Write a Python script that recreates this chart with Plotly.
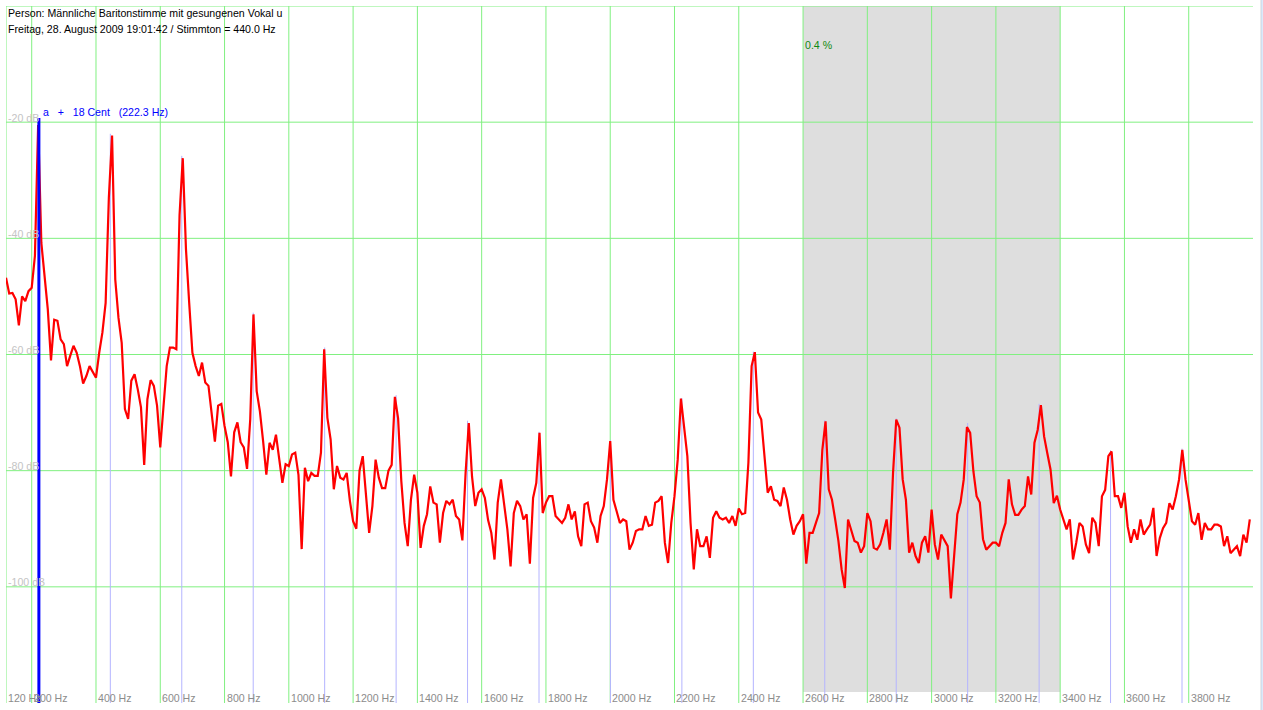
import numpy as np
import plotly.graph_objects as go

# ---------------- data ----------------
FREQ_START_HZ = 120
FREQ_STEP_HZ = 10

DB_120_990 = [
    -46.8, -49.5, -49.4, -50.5, -55.0, -50.0, -50.8, -49.1, -48.5, -43.0,
    -20.5, -40.8, -46.5, -52.2, -61.0, -54.0, -54.2, -57.4, -58.2, -62.0,
    -60.2, -58.5, -59.7, -62.0, -65.0, -63.7, -62.0, -63.1, -64.0, -59.7,
    -56.2, -51.1, -33.0, -22.3, -47.1, -53.7, -58.0, -69.4, -71.1, -64.5,
    -63.4, -66.0, -69.1, -79.0, -67.7, -64.4, -65.4, -68.8, -76.0, -69.0,
    -62.0, -58.8, -58.8, -59.1, -36.0, -26.2, -41.9, -51.1, -59.7, -62.0,
    -63.7, -61.4, -64.8, -65.4, -70.8, -75.0, -68.8, -68.5, -72.3, -75.1,
    -81.0, -73.4, -71.7, -75.1, -76.0, -79.7, -71.1, -53.1, -66.3, -69.8,
    -74.9, -80.7, -75.2, -76.4, -73.8, -78.1, -82.1, -78.9,
]
DB_1000_1990 = [
    -79.2, -77.2, -76.9, -80.7, -93.5, -79.5, -81.8, -80.4, -80.9, -80.9,
    -76.9, -59.1, -70.9, -74.6, -83.2, -79.2, -81.2, -81.5, -80.4, -85.2,
    -88.7, -90.0, -80.0, -77.5, -84.7, -90.7, -86.1, -78.1, -81.2, -83.0,
    -83.0, -80.0, -79.0, -67.3, -71.0, -81.8, -89.0, -93.0, -85.0, -80.7,
    -83.8, -93.3, -89.5, -87.5, -82.7, -85.5, -85.8, -92.4, -87.3, -85.2,
    -85.8, -85.0, -87.8, -88.4, -92.0, -80.4, -71.8, -81.0, -86.1, -83.8,
    -83.2, -84.7, -88.5, -90.7, -95.3, -85.5, -81.5, -85.5, -90.1, -96.5,
    -87.3, -85.2, -86.1, -88.4, -87.5, -96.0, -84.7, -82.1, -73.5, -87.3,
    -85.5, -84.4, -84.4, -87.8, -88.4, -89.0, -88.1, -85.8, -88.4, -87.0,
    -91.3, -93.0, -85.8, -85.5, -88.7, -89.8, -92.4, -87.8, -86.1, -81.5,
]
DB_2000_2990 = [
    -74.9, -85.0, -87.0, -89.0, -88.4, -88.7, -93.6, -92.4, -90.4, -90.1,
    -90.1, -87.8, -89.5, -89.3, -85.5, -85.2, -84.4, -92.4, -95.9, -89.0,
    -84.4, -78.1, -67.6, -72.9, -77.5, -89.0, -97.0, -90.1, -93.0, -93.0,
    -91.3, -95.0, -88.1, -87.0, -88.1, -88.4, -88.1, -89.0, -87.8, -89.5,
    -86.5, -87.5, -87.3, -78.6, -62.0, -59.6, -70.0, -71.2, -78.1, -83.8,
    -82.7, -85.0, -85.2, -86.1, -82.9, -85.0, -88.4, -91.0, -89.5, -88.7,
    -87.5, -96.0, -90.7, -90.7, -89.0, -87.3, -76.4, -71.5, -83.2, -85.0,
    -88.4, -92.1, -97.0, -100.2, -88.4, -90.1, -92.1, -92.4, -94.1, -93.0,
    -87.3, -88.7, -93.3, -93.6, -92.7, -90.7, -88.4, -93.6, -80.4, -71.2,
    -72.6, -81.5, -85.0, -94.1, -92.4, -94.7, -95.9, -92.4, -91.3, -94.1,
]
DB_3000_3990 = [
    -86.7, -92.7, -95.3, -91.0, -92.1, -93.0, -102.0, -94.1, -87.5, -85.5,
    -81.5, -72.5, -73.5, -80.1, -84.4, -85.5, -91.8, -93.6, -93.0, -92.4,
    -92.4, -93.0, -90.7, -89.0, -81.5, -85.8, -87.6, -87.6, -86.7, -86.1,
    -81.0, -84.1, -75.2, -73.0, -68.7, -74.1, -77.0, -79.8, -85.6, -84.3,
    -86.7, -88.4, -90.1, -88.4, -95.3, -92.4, -89.0, -89.6, -92.7, -94.2,
    -88.1, -89.0, -93.0, -84.4, -83.3, -77.5, -76.7, -84.4, -84.4, -86.4,
    -83.8, -89.6, -92.4, -90.1, -91.9, -88.4, -91.0, -90.1, -89.3, -86.4,
    -94.7, -91.6, -89.9, -89.0, -85.6, -86.7, -84.4, -81.5, -76.4, -81.5,
    -85.0, -88.7, -89.3, -87.3, -91.9, -89.0, -90.1, -90.1, -89.3, -89.3,
    -89.6, -93.0, -91.3, -94.2, -93.6, -93.0, -94.7, -91.0, -92.4, -88.4,
]

FUNDAMENTAL_HZ = 222.3
FUNDAMENTAL_TOP_DB = -19.3
HARMONIC_NUMBERS = [2, 3, 4, 5, 6, 7, 8, 9, 10, 11, 12, 13, 14, 15, 16, 17]
HARMONIC_TOP_DB = [-22.0, -25.8, -52.8, -58.8, -67.0, -71.4, -73.3, -74.7,
                   -67.5, -59.5, -71.3, -71.0, -71.8, -68.5, -76.5, -76.2]

X_TICKS = [120, 200, 400, 600, 800, 1000, 1200, 1400, 1600, 1800, 2000,
           2200, 2400, 2600, 2800, 3000, 3200, 3400, 3600, 3800]
X_TICK_LABELS = [f"{v} Hz" for v in X_TICKS]
Y_GRID = [0, -20, -40, -60, -80, -100]
Y_TICKS = [-20, -40, -60, -80, -100]
Y_TICK_LABELS = [f"{v} dB" for v in Y_TICKS]

BAND_HZ = [2600, 3400]
BAND_LABEL = "0.4 %"

TITLE_LINE_1 = "Person: Männliche Baritonstimme mit gesungenen Vokal u"
TITLE_LINE_2 = "Freitag, 28. August 2009 19:01:42 / Stimmton = 440.0 Hz"
NOTE_LABEL = "a\u00a0\u00a0\u00a0+\u00a0\u00a0\u00a018 Cent\u00a0\u00a0\u00a0(222.3 Hz)"

X_RANGE = [120, 4000]
Y_RANGE = [-120, 0]

# ---------------- build ----------------
spectrum_db = DB_120_990 + DB_1000_1990 + DB_2000_2990 + DB_3000_3990
freq = FREQ_START_HZ + FREQ_STEP_HZ * np.arange(len(spectrum_db))

GREEN = "#80f080"
FONT = "Arial, Liberation Sans, sans-serif"
FS = 10.6

fig = go.Figure()

# harmonic marker lines (light blue)
hx, hy = [], []
for n, top in zip(HARMONIC_NUMBERS, HARMONIC_TOP_DB):
    f = n * FUNDAMENTAL_HZ
    hx += [f, f, None]
    hy += [Y_RANGE[0], top, None]
fig.add_trace(go.Scatter(x=hx, y=hy, mode="lines",
                         line=dict(color="#b4b4ff", width=1),
                         hoverinfo="skip", showlegend=False))

# spectrum
fig.add_trace(go.Scatter(x=freq, y=spectrum_db, mode="lines",
                         line=dict(color="#ff0000", width=2.2),
                         showlegend=False))

# fundamental
fig.add_trace(go.Scatter(x=[FUNDAMENTAL_HZ, FUNDAMENTAL_HZ],
                         y=[Y_RANGE[0], FUNDAMENTAL_TOP_DB], mode="lines",
                         line=dict(color="#0000ff", width=3),
                         hoverinfo="skip", showlegend=False))

shapes = [
    dict(type="rect", xref="x", yref="y", x0=BAND_HZ[0], x1=BAND_HZ[1],
         y0=-118.1, y1=0, fillcolor="#dedede", line=dict(width=0), layer="below"),
]
for v in X_TICKS:
    shapes.append(dict(type="line", xref="x", yref="y", x0=v, x1=v,
                       y0=Y_RANGE[0], y1=Y_RANGE[1],
                       line=dict(color=GREEN, width=1), layer="below"))
for v in Y_GRID:
    shapes.append(dict(type="line", xref="x", yref="y", x0=X_RANGE[0], x1=X_RANGE[1],
                       y0=v, y1=v, line=dict(color=GREEN, width=1), layer="below"))
shapes += [
    dict(type="line", xref="paper", yref="paper", x0=1.0064, x1=1.0064, y0=-0.02, y1=1.02,
         line=dict(color="#d8d8d8", width=1)),
    dict(type="line", xref="paper", yref="paper", x0=1.0072, x1=1.0072, y0=-0.02, y1=1.02,
         line=dict(color="#b8d0f0", width=1)),
]

annotations = []
for v, t in zip(X_TICKS, X_TICK_LABELS):
    annotations.append(dict(x=v, y=-119.1, xref="x", yref="y", text=t,
                            xanchor="left", yanchor="middle", showarrow=False,
                            font=dict(family=FONT, size=FS, color="#8c8c8c")))
for v, t in zip(Y_TICKS, Y_TICK_LABELS):
    annotations.append(dict(x=X_RANGE[0], y=v + 0.8, xref="x", yref="y", text=t,
                            xanchor="left", yanchor="middle", showarrow=False,
                            font=dict(family=FONT, size=FS, color="#c4c4c4")))
annotations += [
    dict(x=X_RANGE[0], y=-1.25, xref="x", yref="y", text=TITLE_LINE_1,
         xanchor="left", yanchor="middle", showarrow=False,
         font=dict(family=FONT, size=FS, color="#000000")),
    dict(x=X_RANGE[0], y=-3.95, xref="x", yref="y", text=TITLE_LINE_2,
         xanchor="left", yanchor="middle", showarrow=False,
         font=dict(family=FONT, size=FS, color="#000000")),
    dict(x=230, y=-18.25, xref="x", yref="y", text=NOTE_LABEL,
         xanchor="left", yanchor="middle", showarrow=False,
         font=dict(family=FONT, size=FS, color="#0000ff")),
    dict(x=BAND_HZ[0], y=-6.7, xref="x", yref="y", text=BAND_LABEL,
         xanchor="left", yanchor="middle", showarrow=False,
         font=dict(family=FONT, size=FS, color="#108a10")),
]

fig.update_layout(
    width=1263, height=710,
    margin=dict(l=6, r=10, t=6, b=7, pad=0),
    paper_bgcolor="#ffffff", plot_bgcolor="#ffffff",
    font=dict(family=FONT, size=FS),
    shapes=shapes, annotations=annotations,
    showlegend=False,
    xaxis=dict(range=X_RANGE, showticklabels=False, ticks="", showgrid=False,
               zeroline=False, showline=False, fixedrange=True),
    yaxis=dict(range=Y_RANGE, showticklabels=False, ticks="", showgrid=False,
               zeroline=False, showline=False, fixedrange=True),
)

fig.write_html("out.html", config={"displayModeBar": False, "staticPlot": True},
               post_script="document.body.style.margin='0';document.body.style.overflow='hidden';")
